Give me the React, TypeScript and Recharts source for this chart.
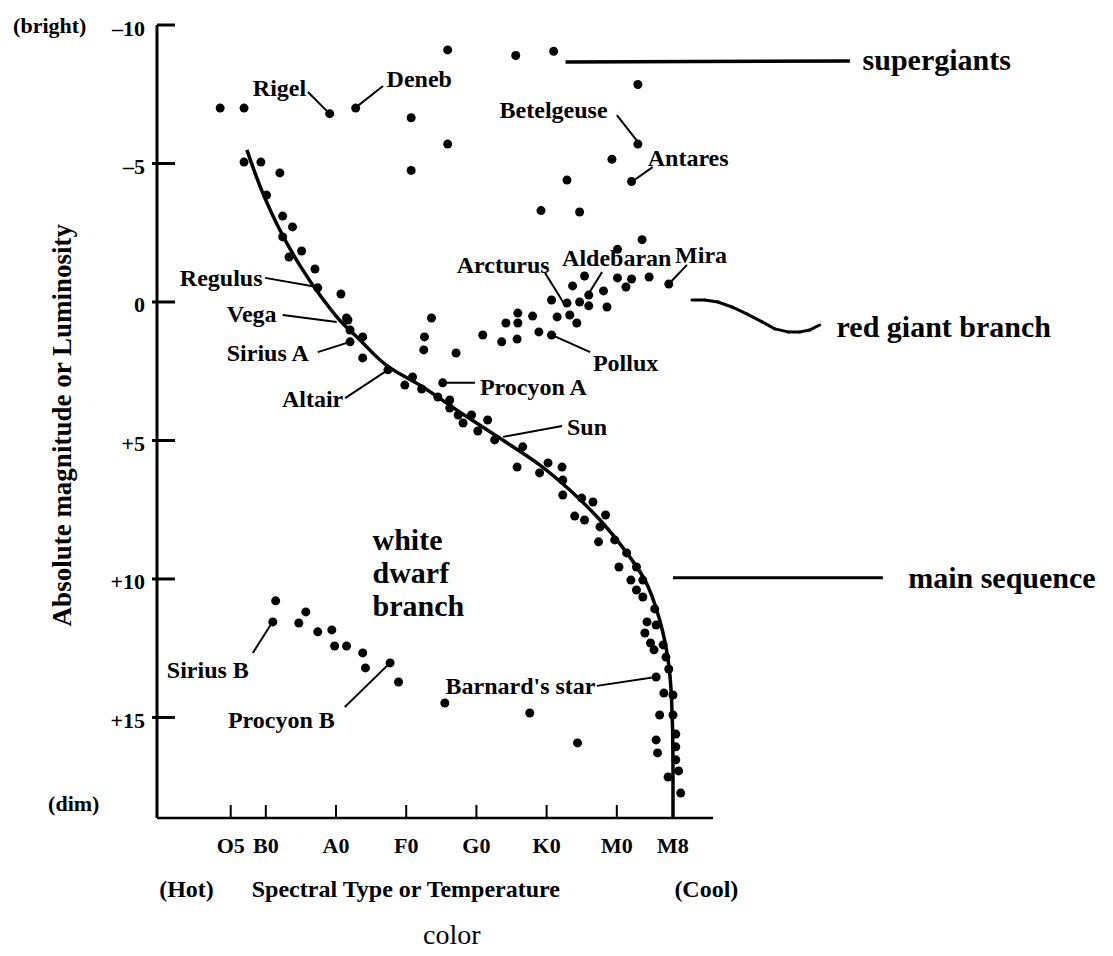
import {
  ComposedChart,
  Scatter,
  XAxis,
  YAxis,
  ReferenceLine,
  ReferenceDot,
} from 'recharts'

// spectral class as a number: O=0, B=1, A=2, F=3, G=4, K=5, M=6 (+ subclass / 10)
const SPECTRAL_TICKS = [0.5, 1, 2, 3, 4, 5, 6, 6.8]
const SPECTRAL_LABELS = ['O5', 'B0', 'A0', 'F0', 'G0', 'K0', 'M0', 'M8']

const MAG_TICKS = [-10, -5, 0, 5, 10, 15]
const MAG_LABELS = ['\u201310', '\u20135', '0', '+5', '+10', '+15']

// [spectral, absolute magnitude]
const supergiants = [
  [0.35, -7.0], [0.69, -7.0], [1.91, -6.8], [2.28, -7.0], [3.59, -9.1], [4.56, -8.9],
  [5.1, -9.05], [6.3, -7.85], [3.07, -6.65], [3.59, -5.7], [3.07, -4.75], [5.93, -5.15],
  [6.3, -5.7], [6.21, -4.35], [5.29, -4.4], [4.92, -3.3], [5.47, -3.25], [6.36, -2.25],
]

const giants = [
  [6.74, -0.65], [6.01, -1.9], [5.54, -0.94], [5.37, -0.58], [5.81, -0.4], [5.6, -0.25],
  [6.01, -0.87], [6.21, -0.83], [6.13, -0.54], [6.46, -0.9], [5.07, -0.07], [5.47, 0.0],
  [5.6, 0.14], [5.86, 0.18], [5.29, 0.04], [5.33, 0.47], [5.43, 0.76], [5.15, 0.54],
  [5.07, 1.19], [4.89, 1.08], [4.8, 0.51], [4.59, 0.4], [4.59, 0.76], [4.58, 1.34],
  [4.42, 0.76], [4.36, 1.44], [4.09, 1.19], [3.71, 1.84], [3.36, 0.58], [3.26, 1.26],
  [3.25, 1.73], [3.52, 2.92],
]

const mainSequenceStars = [
  [0.69, -5.05], [0.93, -5.05], [1.2, -4.66], [1.01, -3.86], [1.24, -3.1], [1.38, -2.71],
  [1.24, -2.35], [1.51, -1.84], [1.33, -1.62], [1.7, -1.19], [1.74, -0.51], [2.07, -0.29],
  [2.15, 0.58], [2.17, 0.65], [2.2, 1.01], [2.38, 1.26], [2.2, 1.44], [2.38, 2.02],
  [2.74, 2.45], [3.09, 2.71], [2.98, 3.0], [3.22, 3.14], [3.45, 3.43], [3.62, 3.54],
  [3.62, 3.83], [3.74, 4.08], [3.93, 4.08], [3.81, 4.37], [4.16, 4.26], [4.02, 4.66],
  [4.26, 4.98], [4.66, 5.23], [4.58, 5.96], [4.9, 6.17], [5.02, 5.81], [5.22, 5.96],
  [5.23, 6.43], [5.23, 6.97], [5.5, 7.08], [5.66, 7.22], [5.4, 7.73], [5.54, 7.87],
  [5.84, 7.69], [5.76, 8.12], [5.97, 8.59], [5.74, 8.66], [6.14, 9.06], [6.28, 9.57],
  [6.03, 9.57], [6.2, 10.04], [6.37, 10.04], [6.28, 10.4], [6.37, 10.65], [6.54, 11.08],
  [6.43, 11.55], [6.56, 11.66], [6.4, 11.95], [6.48, 12.31], [6.66, 12.38], [6.53, 12.56],
  [6.7, 12.82], [6.74, 13.25], [6.56, 13.54], [6.67, 14.12], [6.8, 14.19], [6.61, 14.91],
  [6.8, 14.91], [6.84, 15.6], [6.56, 15.81], [6.84, 16.06], [6.58, 16.28], [6.84, 16.53],
  [6.73, 17.15], [6.88, 16.93], [6.91, 17.73],
]

const whiteDwarfs = [
  [1.14, 10.79], [1.1, 11.55], [1.57, 11.19], [1.47, 11.59], [1.74, 11.91], [1.94, 11.84],
  [1.98, 12.42], [2.15, 12.42], [2.38, 12.67], [2.42, 13.21], [2.77, 13.03], [2.89, 13.72],
  [3.55, 14.48], [4.76, 14.84], [5.44, 15.92],
]

const mainSequenceCurve = [
  [0.73, -5.49], [0.94, -4.04], [1.2, -2.6], [1.48, -1.34], [1.77, -0.25], [2.05, 0.65],
  [2.34, 1.37], [2.77, 2.38], [3.19, 3.0], [3.76, 3.97], [4.33, 4.91], [4.9, 5.88],
  [5.33, 6.79], [5.76, 7.87], [6.11, 8.95], [6.4, 10.04], [6.61, 11.48], [6.73, 12.92],
  [6.78, 14.37], [6.8, 16.53], [6.8, 18.63],
]

// named stars: label anchor and leader line [from, to]
const starLabels = [
  { name: 'Rigel', at: [0.815, -7.73], leader: [[1.6, -7.58], [1.91, -6.79]] },
  { name: 'Deneb', at: [2.72, -8.05], leader: [[2.67, -7.8], [2.31, -7.08]] },
  { name: 'Betelgeuse', at: [4.33, -6.93], leader: [[6.0, -6.75], [6.3, -5.78]] },
  { name: 'Antares', at: [6.44, -5.2], leader: [[6.51, -4.87], [6.21, -4.33]] },
  { name: 'Regulus', at: [-0.225, -0.87], leader: [[0.99, -0.87], [1.73, -0.54]] },
  { name: 'Vega', at: [0.444, 0.43], leader: [[1.24, 0.47], [2.01, 0.72]] },
  { name: 'Sirius A', at: [0.444, 1.84], leader: [[1.74, 1.81], [2.2, 1.44]] },
  { name: 'Altair', at: [1.23, 3.5], leader: [[2.13, 3.47], [2.74, 2.45]] },
  { name: 'Procyon A', at: [4.05, 3.07], leader: [[3.98, 2.92], [3.52, 2.92]] },
  { name: 'Sun', at: [5.29, 4.51], leader: [[5.22, 4.48], [4.38, 4.87]] },
  { name: 'Pollux', at: [5.66, 2.2], leader: [[5.62, 1.81], [5.07, 1.19]] },
  { name: 'Arcturus', at: [3.72, -1.34], leader: [[4.97, -1.08], [5.26, 0.11]] },
  { name: 'Aldebaran', at: [5.22, -1.59], leader: [[5.79, -1.08], [5.57, -0.18]] },
  { name: 'Mira', at: [6.83, -1.7], leader: [[7.0, -1.34], [6.74, -0.65]] },
  { name: 'Sirius B', at: [-0.41, 13.29], leader: [[0.815, 12.67], [1.085, 11.59]] },
  { name: 'Procyon B', at: [0.46, 15.09], leader: [[2.125, 14.62], [2.77, 13.03]] },
  { name: "Barnard's star", at: [3.56, 13.86], leader: [[5.715, 13.86], [6.556, 13.54]] },
]

const regionLabels = [
  { text: 'supergiants', at: [9.5, -8.74] },
  { text: 'red giant branch', at: [9.13, 0.87] },
  { text: 'main sequence', at: [10.15, 9.96] },
  { text: 'white', at: [2.52, 8.59] },
  { text: 'dwarf', at: [2.52, 9.75] },
  { text: 'branch', at: [2.52, 10.94] },
]

const supergiantPointer = [[5.27, -8.66], [9.32, -8.7]]
const mainSequencePointer = [[6.8, 9.96], [9.79, 9.96]]
const redGiantWave = [
  [7.07, -0.07], [7.25, -0.07], [7.44, 0.0], [7.64, 0.18], [7.85, 0.43], [8.07, 0.72],
  [8.25, 0.97], [8.44, 1.08], [8.61, 1.08], [8.75, 1.01], [8.89, 0.83],
]

const axisNotes = [
  { text: '(bright)', at: [-2.6, -10], kind: 'tickNote', anchor: 'start' },
  { text: '(dim)', at: [-1.37, 18.09], kind: 'tickNote', anchor: 'end' },
  { text: '(Hot)', at: [-0.13, 21.19], kind: 'axisTitle', anchor: 'middle' },
  { text: 'Spectral Type or Temperature', at: [0.8, 21.19], kind: 'axisTitle', anchor: 'start' },
  { text: '(Cool)', at: [6.82, 21.19], kind: 'axisTitle', anchor: 'start' },
  { text: 'color', at: [3.65, 22.85], kind: 'color', anchor: 'middle' },
]
const yTitle = { text: 'Absolute magnitude or Luminosity', at: [-1.9, 4.45] }

const FONT = '"Liberation Serif", "Times New Roman", serif'
const INK = '#000'
const TEXT_STYLE: Record<string, { fontSize: number; fontWeight: number }> = {
  star: { fontSize: 24, fontWeight: 700 },
  region: { fontSize: 30, fontWeight: 700 },
  tickNote: { fontSize: 22, fontWeight: 700 },
  axisTitle: { fontSize: 24, fontWeight: 700 },
  yTitle: { fontSize: 27, fontWeight: 700 },
  color: { fontSize: 28, fontWeight: 400 },
}

const toPoints = (rows: number[][]) => rows.map(([x, y]) => ({ x, y }))

const dot = (p: any) => <circle cx={p.cx} cy={p.cy} r={4.5} fill={INK} />

const textAt = (text: string, kind: string, anchor = 'start', rotate = 0) => (p: any) => (
  <text
    x={p.cx}
    y={p.cy}
    textAnchor={anchor}
    dominantBaseline="central"
    fontFamily={FONT}
    fill={INK}
    transform={rotate ? `rotate(${rotate} ${p.cx} ${p.cy})` : undefined}
    {...TEXT_STYLE[kind]}
  >
    {text}
  </text>
)

function MagTick(props: any) {
  const { x, y, payload } = props
  const label = MAG_LABELS[MAG_TICKS.indexOf(payload.value)]
  const left = payload.value === MAG_TICKS[0] ? 0 : 5
  return (
    <g>
      <line x1={x - left} x2={x + 18} y1={y} y2={y} stroke={INK} strokeWidth={3} />
      <text
        x={x - 12}
        y={y + 3}
        textAnchor="end"
        dominantBaseline="central"
        fontFamily={FONT}
        fontSize={22}
        fontWeight={700}
        fill={INK}
      >
        {label}
      </text>
    </g>
  )
}

function SpectralTick(props: any) {
  const { x, y, payload } = props
  const label = SPECTRAL_LABELS[SPECTRAL_TICKS.indexOf(payload.value)]
  return (
    <g>
      <line x1={x} x2={x} y1={y} y2={y - 13} stroke={INK} strokeWidth={2} />
      <text
        x={x}
        y={y + 27}
        textAnchor="middle"
        dominantBaseline="central"
        fontFamily={FONT}
        fontSize={22}
        fontWeight={700}
        fill={INK}
      >
        {label}
      </text>
    </g>
  )
}

const segment = (a: number[], b: number[]) => [
  { x: a[0], y: a[1] },
  { x: b[0], y: b[1] },
]

export default function App() {
  return (
    <div style={{ position: 'absolute', left: 0, top: 0, width: 1113, height: 956, background: '#fff' }}>
      <ComposedChart width={1113} height={956} margin={{ top: 25, right: 400, bottom: 0, left: 0 }}>
        <XAxis
          type="number"
          dataKey="x"
          domain={[-0.55, 7.37]}
          allowDataOverflow
          ticks={SPECTRAL_TICKS}
          interval={0}
          height={138}
          tickSize={0}
          tickMargin={0}
          tickLine={false}
          axisLine={{ stroke: INK, strokeWidth: 2.5 }}
          tick={<SpectralTick />}
        />
        <YAxis
          type="number"
          dataKey="y"
          domain={[-10, 18.63]}
          allowDataOverflow
          reversed
          ticks={MAG_TICKS}
          interval={0}
          width={157}
          tickSize={0}
          tickMargin={0}
          tickLine={false}
          axisLine={{ stroke: INK, strokeWidth: 3 }}
          tick={<MagTick />}
        />

        <Scatter
          data={toPoints(mainSequenceCurve)}
          line={{ stroke: INK, strokeWidth: 3.5 }}
          lineJointType="monotoneY"
          shape={() => <g />}
          isAnimationActive={false}
        />
        <Scatter data={toPoints(supergiants)} shape={dot} isAnimationActive={false} />
        <Scatter data={toPoints(giants)} shape={dot} isAnimationActive={false} />
        <Scatter data={toPoints(mainSequenceStars)} shape={dot} isAnimationActive={false} />
        <Scatter data={toPoints(whiteDwarfs)} shape={dot} isAnimationActive={false} />

        {starLabels.map((s) => (
          <ReferenceLine
            key={`l-${s.name}`}
            segment={segment(s.leader[0], s.leader[1])}
            stroke={INK}
            strokeWidth={2}
            ifOverflow="visible"
          />
        ))}
        {starLabels.map((s) => (
          <ReferenceDot
            key={`t-${s.name}`}
            x={s.at[0]}
            y={s.at[1]}
            r={0}
            ifOverflow="visible"
            shape={textAt(s.name, 'star')}
          />
        ))}

        <ReferenceLine
          segment={segment(supergiantPointer[0], supergiantPointer[1])}
          stroke={INK}
          strokeWidth={3.5}
          ifOverflow="visible"
        />
        <ReferenceLine
          segment={segment(mainSequencePointer[0], mainSequencePointer[1])}
          stroke={INK}
          strokeWidth={3}
          ifOverflow="visible"
        />
        {redGiantWave.slice(1).map((p, i) => (
          <ReferenceLine
            key={`w-${i}`}
            segment={segment(redGiantWave[i], p)}
            stroke={INK}
            strokeWidth={3}
            strokeLinecap="round"
            ifOverflow="visible"
          />
        ))}
        {regionLabels.map((r) => (
          <ReferenceDot
            key={`r-${r.text}`}
            x={r.at[0]}
            y={r.at[1]}
            r={0}
            ifOverflow="visible"
            shape={textAt(r.text, 'region')}
          />
        ))}

        {axisNotes.map((n) => (
          <ReferenceDot
            key={`a-${n.text}`}
            x={n.at[0]}
            y={n.at[1]}
            r={0}
            ifOverflow="visible"
            shape={textAt(n.text, n.kind, n.anchor)}
          />
        ))}
        <ReferenceDot
          x={yTitle.at[0]}
          y={yTitle.at[1]}
          r={0}
          ifOverflow="visible"
          shape={textAt(yTitle.text, 'yTitle', 'middle', -90)}
        />
      </ComposedChart>
    </div>
  )
}
